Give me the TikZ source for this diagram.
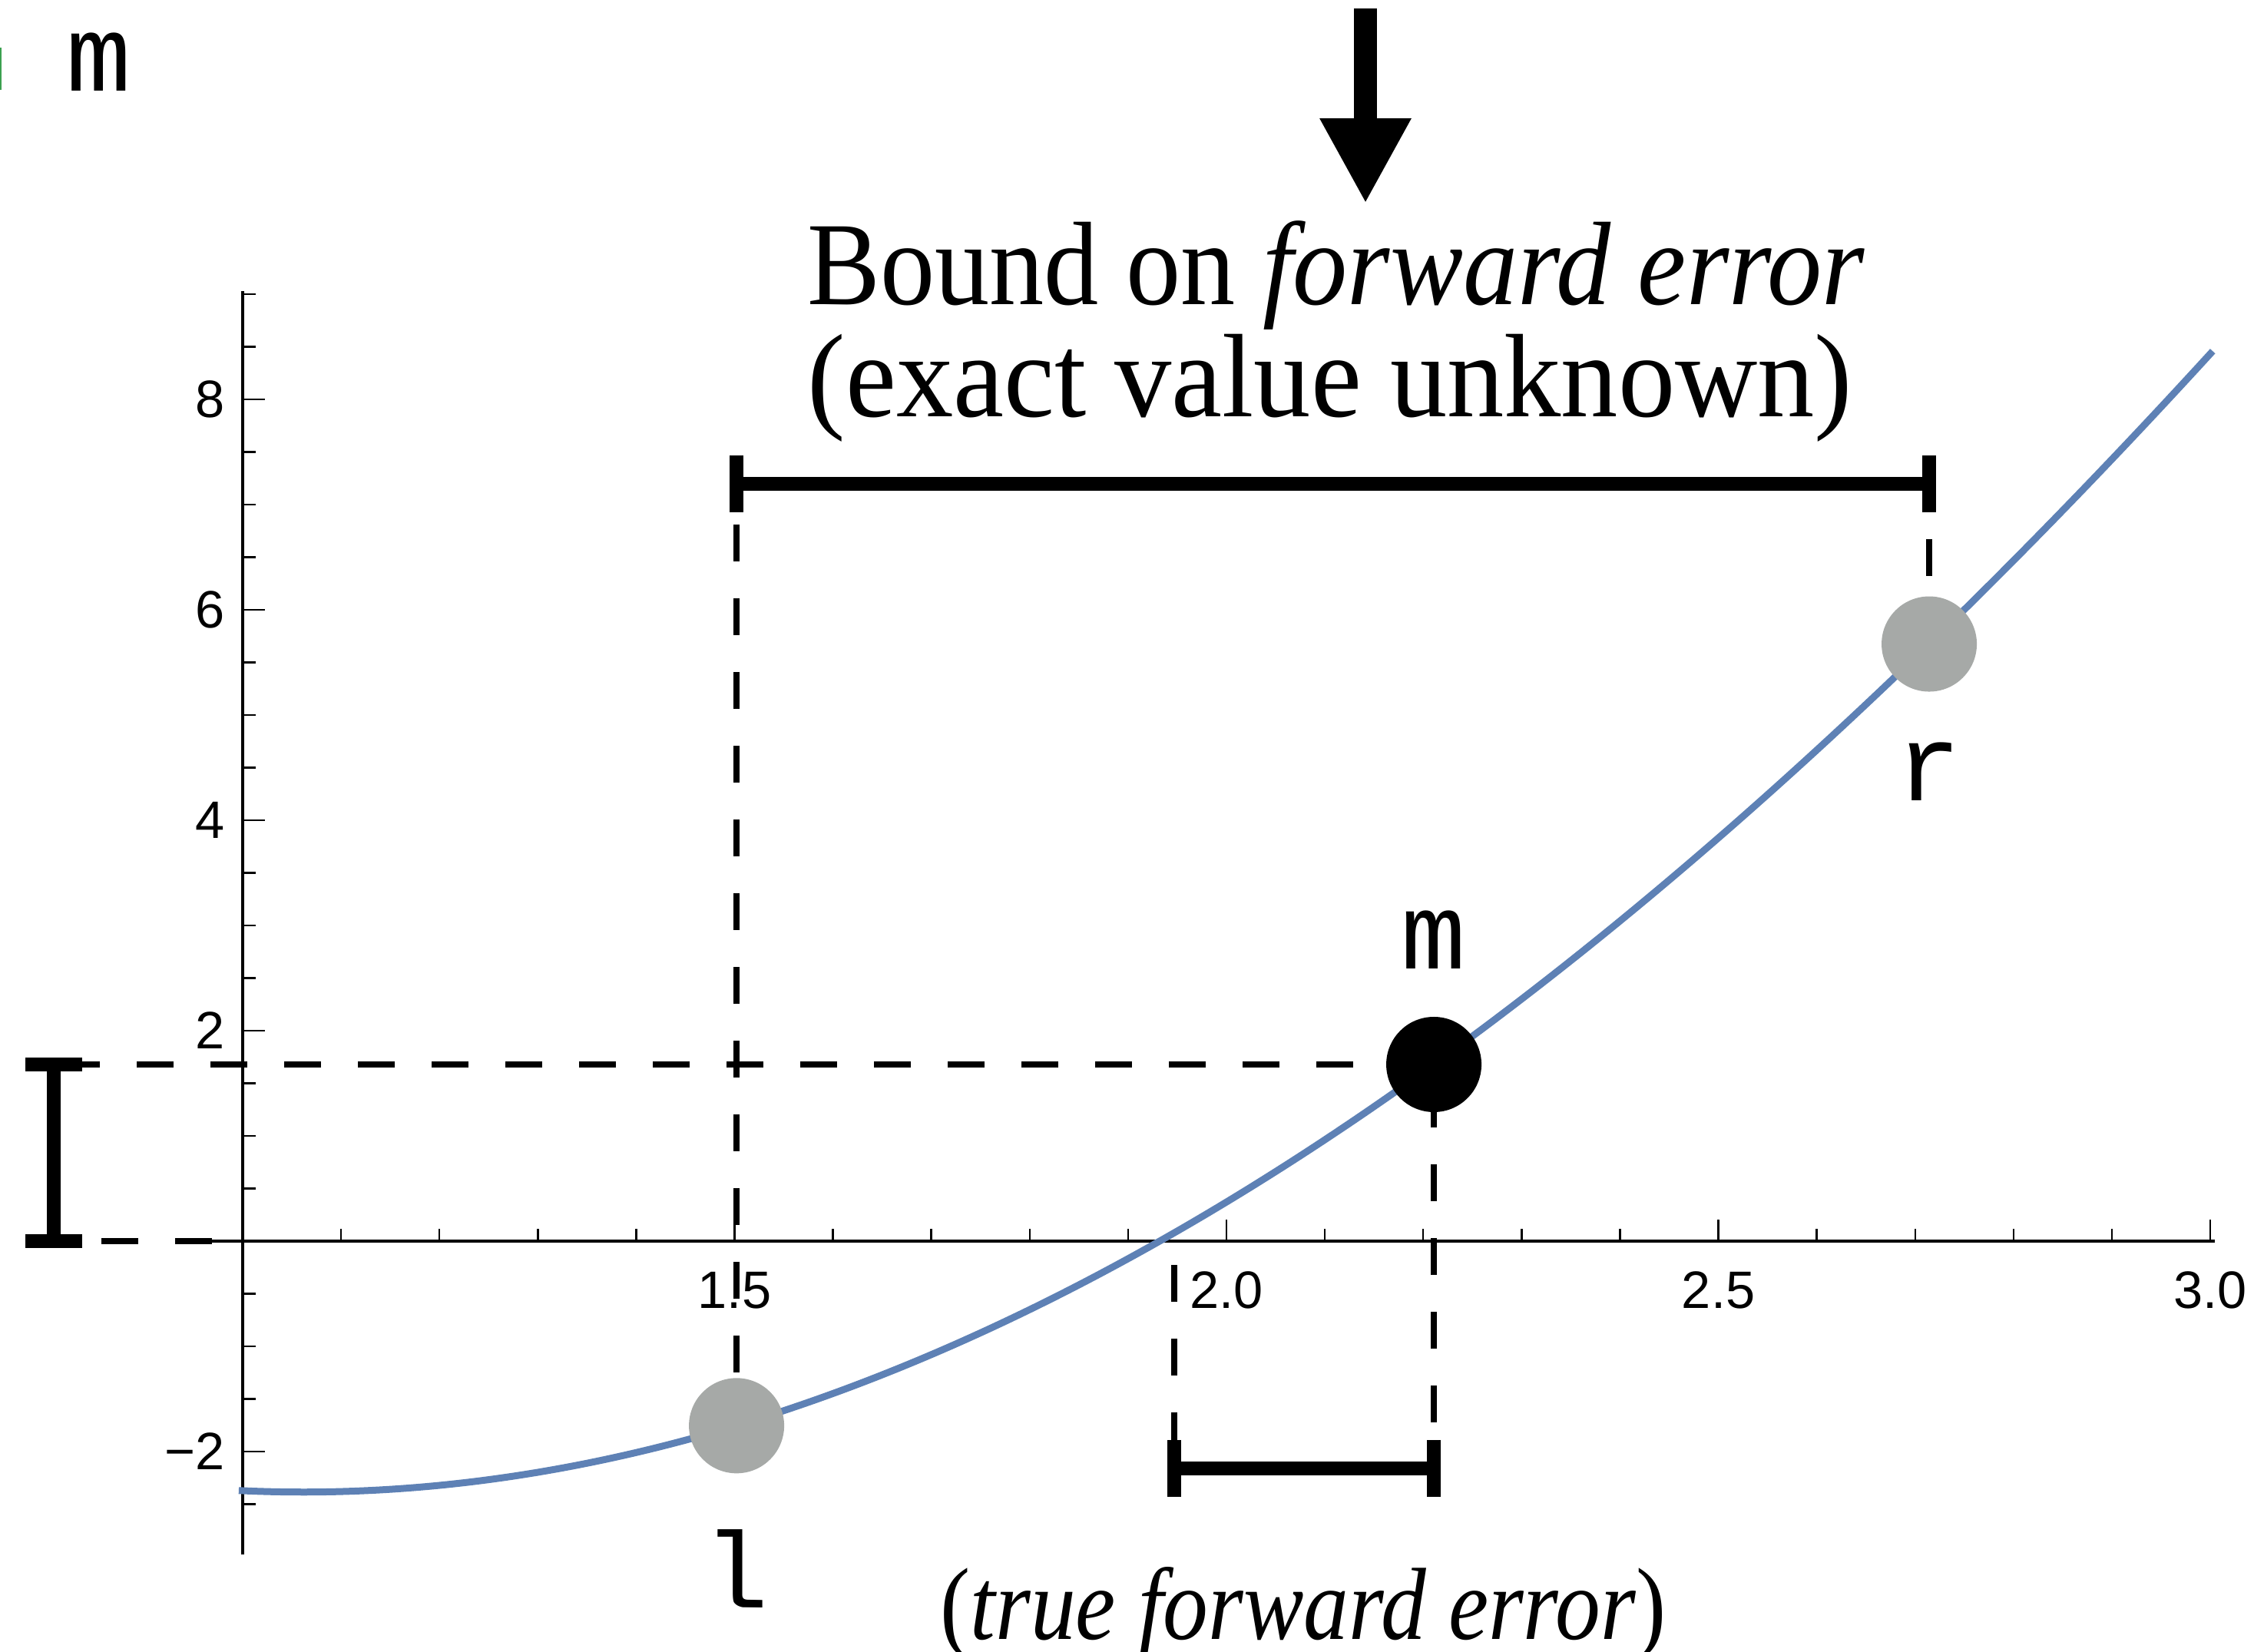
\documentclass[tikz,border=0pt]{standalone}
\usepackage{fontspec}
\setmainfont{Liberation Serif}
\newfontfamily\ptfont{Liberation Mono}
\newfontfamily\tickfont{Liberation Sans}
\usepackage{tikz}
\usetikzlibrary{arrows.meta,positioning}
\definecolor{plotblue}{RGB}{94,129,181}
\definecolor{ptgray}{RGB}{166,169,167}
\definecolor{edgegreen}{RGB}{60,160,80}
\tikzset{
  axisline/.style={line width=0.035cm},
  tickmark/.style={line width=0.025cm},
  curve/.style={line width=0.09cm,color=plotblue},
  guide/.style={line width=0.08cm,dash pattern=on 0.48cm off 0.48cm},
  errbar/.style={line width=0.18cm},
  pointer/.style={line width=0.3cm,-{Triangle[length=1.11cm,width=1.11cm]}},
  endpt/.style={circle,fill=ptgray,minimum size=1.24cm,inner sep=0pt},
  midpt/.style={circle,fill=black,minimum size=1.24cm,inner sep=0pt},
  ptlabel/.style={font=\ptfont\fontsize{40}{40}\selectfont,inner sep=0pt},
  ticklabel/.style={font=\tickfont\fontsize{19.5}{19.5}\selectfont,inner sep=0pt},
  headtext/.style={font=\fontsize{44}{44}\selectfont,inner sep=0pt,anchor=base},
  foottext/.style={font=\fontsize{38}{38}\selectfont,inner sep=0pt,anchor=base},
}

\begin{document}
\begin{tikzpicture}[x=12.81cm,y=1.37cm]
  \useasboundingbox (0.75332,-3.8978) rectangle (3.0445,11.7956);
  % axes and ticks
  \draw[axisline] (0.968,0) -- (3.005,0);
  \draw[axisline] (1,-2.98) -- (1,9.03);
  \foreach \i in {1,...,20}
    \draw[tickmark] ({1+\i/10},0) -- ++(0,0.16cm);
  \foreach \v [count=\k] in {1.5,2.0,2.5,3.0} {
    \draw[tickmark] (\v,0) -- ++(0,0.28cm);
    \node[ticklabel,anchor=base] (xlab\k) at (\v,-0.635) {\v};
  }
  \foreach \i in {-5,...,18}
    \draw[tickmark] (1,\i/2) -- ++(0.17cm,0);
  \foreach \v/\txt [count=\k] in {-2/−2,2/2,4/4,6/6,8/8} {
    \draw[tickmark] (1,\v) -- ++(0.29cm,0);
    \node[ticklabel,anchor=east] (ylab\k) at (0.982,\v) {\txt};
  }
  % the function
  \draw[curve] plot[domain=0.996:3.004,samples=120,smooth]
    (\x,{-2.372-0.4177*(\x-1)+3.4127*(\x-1)^2-0.2513*(\x-1)^3});
  % points and bracket ends
  \coordinate (lpos) at (1.502,-1.754);
  \coordinate (mpos) at (2.2108,1.679);
  \coordinate (rpos) at (2.7143,5.675);
  \coordinate (root) at (1.947,0);
  \coordinate (yzero) at (1,0);
  \coordinate (bndL) at (1.502,7.197);
  \coordinate (bndR) at (2.7143,7.197);
  \coordinate (trueL) at (1.947,-2.161);
  \coordinate (trueR) at (2.2108,-2.161);
  \coordinate (resT) at (0.808,1.679);
  \coordinate (resB) at (0.808,0);
  % dashed guides
  \draw[guide,dash phase=0.43cm] (bndL) -- (lpos);
  \draw[guide,dash phase=0.24cm] (bndR) -- (rpos);
  \draw[guide,dash phase=0.84cm] (resT) -- (mpos);
  \draw[guide,dash phase=0.34cm] (resB) -- (yzero);
  \draw[guide,dash phase=0.65cm] (root) -- (trueL);
  \draw[guide,dash phase=0.62cm] (mpos) -- (trueR);
  % error bars
  \draw[errbar] (bndL) -- (bndR);
  \draw[errbar] (trueL) -- (trueR);
  \foreach \c in {bndL,bndR,trueL,trueR}
    \draw[errbar] ([yshift=-0.37cm]\c) -- ([yshift=0.37cm]\c);
  \draw[errbar] (resT) -- (resB);
  \foreach \c in {resT,resB}
    \draw[errbar] ([xshift=-0.37cm]\c) -- ([xshift=0.37cm]\c);
  % bracketing points
  \node[endpt,label={[ptlabel,label distance=0.72cm]below:l}] (lpt) at (lpos) {};
  \node[midpt,label={[ptlabel,label distance=0.61cm]above:m}] (mpt) at (mpos) {};
  \node[endpt,label={[ptlabel,label distance=0.65cm]below:r}] (rpt) at (rpos) {};
  % captions
  \coordinate (arrtop) at (2.1413,11.715);
  \coordinate (arrtip) at (2.1413,9.861);
  \draw[pointer] (arrtop) -- (arrtip);
  \node[headtext,xscale=0.92] (bound) at (2.1116,8.905) {Bound on \textit{forward error}};
  \node[headtext,xscale=0.96] (exact) at (2.1054,7.839) {(exact value unknown)};
  \node[foottext,xscale=0.88] (truefe) at (2.078,-3.788) {(\textit{true forward error})};
  \node[ptlabel,anchor=base] (mkey) at (0.854,10.934) {m};
  \fill[edgegreen] (0.75332,10.942) rectangle ++(0.015cm,0.55cm);
\end{tikzpicture}
\end{document}
